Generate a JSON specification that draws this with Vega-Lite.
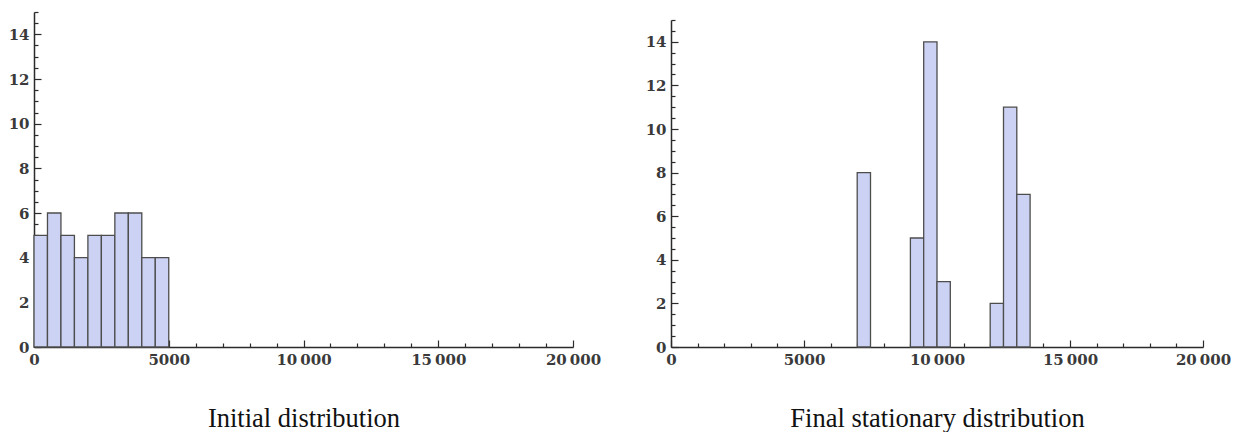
{
  "$schema": "https://vega.github.io/schema/vega-lite/v6.json",
  "background": "white",
  "padding": {"left": 8, "top": 5, "right": 0, "bottom": 0},
  "spacing": 44,
  "config": {
    "view": {"stroke": null},
    "axis": {
      "domainColor": "#2b2b2b",
      "domainWidth": 1.5,
      "tickColor": "#2b2b2b",
      "tickWidth": 1.2,
      "labelFont": "DejaVu Serif",
      "labelFontWeight": "bold",
      "labelFontSize": 15,
      "labelColor": "#3a3a3a",
      "labelOverlap": false,
      "labelFlush": false,
      "grid": false,
      "titleFont": "Liberation Serif",
      "titleFontSize": 26.5,
      "titleFontWeight": "normal",
      "titleColor": "#111111"
    }
  },
  "datasets": {
    "initial": [
      {"start": 0, "end": 500, "count": 5},
      {"start": 500, "end": 1000, "count": 6},
      {"start": 1000, "end": 1500, "count": 5},
      {"start": 1500, "end": 2000, "count": 4},
      {"start": 2000, "end": 2500, "count": 5},
      {"start": 2500, "end": 3000, "count": 5},
      {"start": 3000, "end": 3500, "count": 6},
      {"start": 3500, "end": 4000, "count": 6},
      {"start": 4000, "end": 4500, "count": 4},
      {"start": 4500, "end": 5000, "count": 4}
    ],
    "final": [
      {"start": 7000, "end": 7500, "count": 8},
      {"start": 9000, "end": 9500, "count": 5},
      {"start": 9500, "end": 10000, "count": 14},
      {"start": 10000, "end": 10500, "count": 3},
      {"start": 12000, "end": 12500, "count": 2},
      {"start": 12500, "end": 13000, "count": 11},
      {"start": 13000, "end": 13500, "count": 7}
    ]
  },
  "hconcat": [
    {
      "width": 539,
      "height": 335,
      "data": {"name": "initial"},
      "mark": {"type": "rect", "fill": "#ccd2f4", "stroke": "#4d4d4d", "strokeWidth": 1.3},
      "encoding": {
        "x": {
          "field": "start", "type": "quantitative",
          "scale": {"domain": [0, 20000], "nice": false, "zero": false},
          "axis": {
            "title": "Initial distribution",
            "titlePadding": 35,
            "values": [0,1000,2000,3000,4000,5000,6000,7000,8000,9000,10000,11000,12000,13000,14000,15000,16000,17000,18000,19000,20000],
            "labelExpr": "datum.value % 5000 === 0 ? (datum.value >= 10000 ? format(datum.value/1000,'d') + '\u2009000' : format(datum.value,'d')) : ''",
            "tickSize": {"condition": {"test": "datum.value % 5000 === 0", "value": -7}, "value": -4},
            "labelPadding": 12
          }
        },
        "x2": {"field": "end"},
        "y": {
          "field": "count", "type": "quantitative",
          "scale": {"domain": [0, 15], "nice": false},
          "axis": {
            "title": null,
            "values": [0,0.5,1,1.5,2,2.5,3,3.5,4,4.5,5,5.5,6,6.5,7,7.5,8,8.5,9,9.5,10,10.5,11,11.5,12,12.5,13,13.5,14,14.5,15],
            "labelExpr": "datum.value % 2 === 0 ? format(datum.value,'d') : ''",
            "tickSize": {"condition": {"test": "datum.value % 2 === 0", "value": -7}, "value": -4},
            "labelPadding": 12
          }
        },
        "y2": {"datum": 0}
      }
    },
    {
      "width": 532,
      "height": 335,
      "data": {"name": "final"},
      "mark": {"type": "rect", "fill": "#ccd2f4", "stroke": "#4d4d4d", "strokeWidth": 1.3},
      "encoding": {
        "x": {
          "field": "start", "type": "quantitative",
          "scale": {"domain": [0, 20000], "nice": false, "zero": false},
          "axis": {
            "title": "Final stationary distribution",
            "titlePadding": 35,
            "values": [0,1000,2000,3000,4000,5000,6000,7000,8000,9000,10000,11000,12000,13000,14000,15000,16000,17000,18000,19000,20000],
            "labelExpr": "datum.value % 5000 === 0 ? (datum.value >= 10000 ? format(datum.value/1000,'d') + '\u2009000' : format(datum.value,'d')) : ''",
            "tickSize": {"condition": {"test": "datum.value % 5000 === 0", "value": -7}, "value": -4},
            "labelPadding": 12
          }
        },
        "x2": {"field": "end"},
        "y": {
          "field": "count", "type": "quantitative",
          "scale": {"domain": [0, 15], "nice": false, "range": [335, 8]},
          "axis": {
            "title": null,
            "values": [0,0.5,1,1.5,2,2.5,3,3.5,4,4.5,5,5.5,6,6.5,7,7.5,8,8.5,9,9.5,10,10.5,11,11.5,12,12.5,13,13.5,14,14.5,15],
            "labelExpr": "datum.value % 2 === 0 ? format(datum.value,'d') : ''",
            "tickSize": {"condition": {"test": "datum.value % 2 === 0", "value": -7}, "value": -4},
            "labelPadding": 12
          }
        },
        "y2": {"datum": 0}
      }
    }
  ]
}
